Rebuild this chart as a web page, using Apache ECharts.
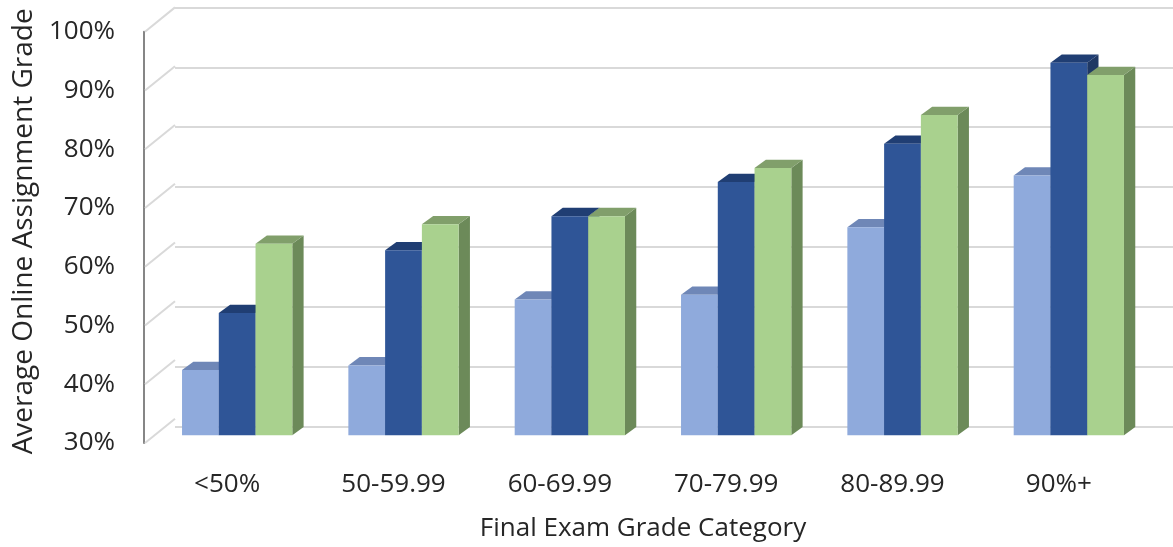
<!DOCTYPE html>
<html>
<head>
<meta charset="utf-8">
<script src="https://cdn.jsdelivr.net/npm/echarts@6/dist/echarts.min.js"></script>
<style>
html,body{margin:0;padding:0;background:#fff;}
#chart{width:1173px;height:547px;}
</style>
</head>
<body>
<div id="chart"></div>
<script>
// ---- data ----
const categories = ['<50%', '50-59.99', '60-69.99', '70-79.99', '80-89.99', '90%+'];
const seriesLight = [41.1, 41.9, 53.1, 53.9, 65.4, 74.2];
const seriesDark  = [50.8, 61.5, 67.3, 73.1, 79.6, 93.4];
const seriesGreen = [62.6, 65.9, 67.3, 75.5, 84.5, 91.3];
const seriesNames = ['Series 1', 'Series 2', 'Series 3'];
const yTicks = [30, 40, 50, 60, 70, 80, 90, 100];

// ---- style ----
const FONT = 'Open Sans';
const TXT = '#262626';
const palette = [
  {front: '#8FAADC', top: '#6F87B7', side: '#5F76A3'},
  {front: '#2F5597', top: '#203E73', side: '#1F3864'},
  {front: '#A9D18E', top: '#819F6B', side: '#6C8A59'}
];
// 3D geometry (pixels)
const BAR_DX = 10, BAR_DY = -7.7;     // bar plane offset from front plane
const DEPTH_DX = 11.3, DEPTH_DY = -8.3; // bar depth
const WALL_DX = 31, WALL_DY = -24.3;  // back wall offset from front plane
const GROUP_FRAC = 0.663;

const chart = echarts.init(document.getElementById('chart'));

function barRender(idx) {
  return function (params, api) {
    const cat = api.value(0), v = api.value(1);
    const base = api.coord([cat, 30]);
    const top = api.coord([cat, v]);
    const band = api.size([1, 0])[0];
    const groupW = band * GROUP_FRAC;
    const bw = groupW / 3;
    const x0 = base[0] - groupW / 2 + idx * bw + BAR_DX;
    const x1 = x0 + bw;
    const yT = top[1] + BAR_DY;
    const yB = base[1] + BAR_DY;
    const c = palette[idx];
    return {
      type: 'group',
      children: [
        {type: 'polygon', shape: {points: [[x1, yT], [x1 + DEPTH_DX, yT + DEPTH_DY], [x1 + DEPTH_DX, yB + DEPTH_DY], [x1, yB]]}, style: {fill: c.side}},
        {type: 'polygon', shape: {points: [[x0, yT], [x1, yT], [x1 + DEPTH_DX, yT + DEPTH_DY], [x0 + DEPTH_DX, yT + DEPTH_DY]]}, style: {fill: c.top}},
        {type: 'rect', shape: {x: x0, y: yT, width: bw, height: yB - yT}, style: {fill: c.front}}
      ]
    };
  };
}

function slantRender(params, api) {
  const v = api.value(0);
  const y = api.coord([0, v])[1];
  const x = params.coordSys.x;
  return {
    type: 'line',
    shape: {x1: x + 1, y1: y, x2: x + WALL_DX, y2: y + WALL_DY},
    style: {stroke: '#d9d9d9', lineWidth: 2}
  };
}

const option = {
  backgroundColor: '#ffffff',
  animation: false,
  textStyle: {fontFamily: FONT},
  grid: [
    {left: 144, top: 31.7, width: 998, height: 419.3, containLabel: false},
    {left: 175, top: 7.4, right: 0, height: 419.3, containLabel: false}
  ],
  xAxis: [
    {
      type: 'category', gridIndex: 0, data: categories,
      axisLine: {show: false}, axisTick: {show: false},
      axisLabel: {color: TXT, fontSize: 26, fontFamily: FONT, margin: 29, interval: 0},
      name: 'Final Exam Grade Category', nameLocation: 'middle', nameGap: 73,
      nameTextStyle: {color: TXT, fontSize: 26, fontFamily: FONT}
    },
    {type: 'category', gridIndex: 1, data: categories, show: false}
  ],
  yAxis: [
    {
      type: 'value', gridIndex: 0, min: 30, max: 100, interval: 10,
      axisLine: {show: true, lineStyle: {color: '#868686', width: 2}},
      axisTick: {show: false}, splitLine: {show: false},
      axisLabel: {color: TXT, fontSize: 26, fontFamily: FONT, margin: 29, formatter: '{value}%',
        padding: [10, 0, 0, 0]},
      name: 'Average Online Assignment Grade', nameLocation: 'middle', nameGap: 99, nameRotate: 90,
      nameTextStyle: {color: TXT, fontSize: 28, fontFamily: FONT, padding: [0, 0, 0, 12]}
    },
    {
      type: 'value', gridIndex: 1, min: 30, max: 100, interval: 10,
      axisLine: {show: false}, axisTick: {show: false}, axisLabel: {show: false},
      splitLine: {show: true, lineStyle: {color: '#d9d9d9', width: 2}}
    }
  ],
  series: [
    {
      type: 'custom', name: 'grid-slants', xAxisIndex: 0, yAxisIndex: 0,
      renderItem: slantRender, data: yTicks.map(v => [v]), encode: {y: 0}, silent: true, z: 1
    },
    {type: 'custom', name: seriesNames[0], xAxisIndex: 0, yAxisIndex: 0, renderItem: barRender(0),
      data: categories.map((c, i) => [i, seriesLight[i]]), encode: {x: 0, y: 1}, z: 2},
    {type: 'custom', name: seriesNames[1], xAxisIndex: 0, yAxisIndex: 0, renderItem: barRender(1),
      data: categories.map((c, i) => [i, seriesDark[i]]), encode: {x: 0, y: 1}, z: 3},
    {type: 'custom', name: seriesNames[2], xAxisIndex: 0, yAxisIndex: 0, renderItem: barRender(2),
      data: categories.map((c, i) => [i, seriesGreen[i]]), encode: {x: 0, y: 1}, z: 4}
  ]
};
chart.setOption(option);
</script>
</body>
</html>
